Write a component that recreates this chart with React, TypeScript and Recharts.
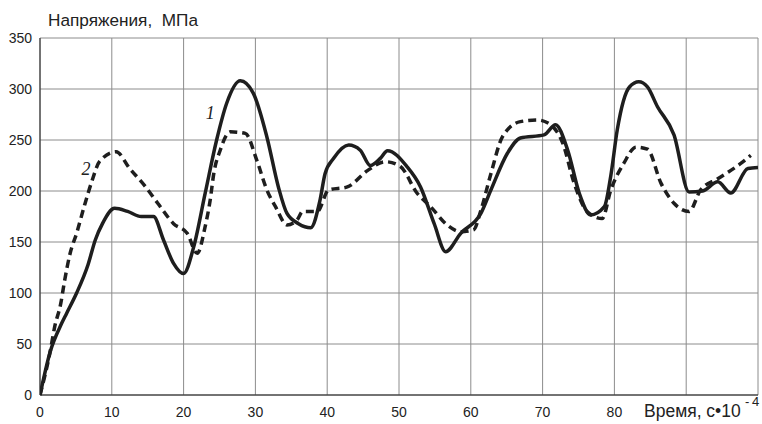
import React from 'react';
import { LineChart, Line, XAxis, YAxis, CartesianGrid, ReferenceDot } from 'recharts';

const t1 = [0, 1.4, 3.0, 3.7, 5.1, 6.7, 7.7, 8.7, 10.4, 12.2, 14.1, 15.8, 17.2, 18.6, 20, 21.4, 23, 24.6, 26, 27.9, 29.7, 31.6, 33.2, 34.4, 36, 37.7, 39, 39.7, 40.9, 43, 44.6, 46, 47.4, 48.4, 51.1, 53, 54.9, 56.5, 58.6, 61.4, 62.8, 65.1, 66.9, 70.2, 71.8, 73.5, 75.1, 76.7, 78.6, 79.5, 80.4, 82.1, 83.4, 84.6, 86, 88.3, 90.4, 92.3, 94.4, 96.2, 98.6, 100];
const s1 = [0, 42, 70, 80, 100, 128, 152, 168, 183, 180, 175, 175, 152, 129, 119, 145, 197.6, 250, 286, 308, 296, 253, 204, 178, 168, 164, 191, 217, 232, 245, 240, 225, 232, 239.5, 224, 204, 168, 140.5, 158.5, 178, 201, 237, 252, 255, 265, 240, 198, 176.5, 184.6, 215, 260, 302, 307, 302, 282.6, 255, 199, 200, 209, 198, 222, 223];

const t2 = [0, 1.4, 2.05, 2.9, 3.4, 4.2, 5.1, 6.2, 7.2, 8.3, 10.6, 12.5, 14.6, 16.4, 18.6, 20.5, 21.9, 23, 23.7, 24.2, 25.1, 26.5, 28.6, 30.2, 31.6, 32.8, 34.4, 35.8, 36.6, 38.6, 40.2, 42.8, 45.6, 48.1, 50.2, 52.5, 54.4, 56.7, 58.6, 60.4, 61.4, 62.8, 64.4, 66.9, 69.3, 71.1, 72.8, 74.4, 76.2, 78.3, 79.5, 81.3, 83, 84.6, 86.5, 88.3, 90.4, 92, 94.4, 97.6, 99];
const s2 = [0, 42, 67, 90, 111, 139, 158.5, 186, 209, 229, 238.5, 222, 205, 188, 168, 158.5, 139, 165, 191, 217, 240, 258, 256.5, 230, 201, 184.6, 166.7, 171.6, 180, 180, 201, 204, 220, 228.7, 224, 198, 184.6, 166.7, 160, 162, 181, 217, 253, 268, 269.6, 265, 247, 207.5, 180, 173, 201, 227, 243, 241, 207.5, 188, 180, 201, 212, 227, 235];

const xTicks = [0, 10, 20, 30, 40, 50, 60, 70, 80, 90, 100];
const yTicks = [0, 50, 100, 150, 200, 250, 300, 350];
const xLabelMax = 80;

const d1 = t1.map((x, i) => ({ x, y: s1[i] }));
const d2 = t2.map((x, i) => ({ x, y: s2[i] }));

const FONT = '"Liberation Sans", Arial, sans-serif';

const XTick = (props: any) => {
  const { x, y, payload } = props;
  if (payload.value > xLabelMax) return <g />;
  return (
    <text x={x} y={y + 14} textAnchor="middle" fontSize={14} fill="#222" fontFamily={FONT}>
      {payload.value}
    </text>
  );
};

const curveLabel = (txt: string) => (p: any) => (
  <text x={p.cx} y={p.cy} textAnchor="middle" dominantBaseline="central" fontSize={18} fontStyle="italic" fontFamily='"Liberation Serif", "DejaVu Serif", serif' fill="#222">
    {txt}
  </text>
);

export default function App() {
  return (
    <div style={{ position: 'absolute', left: 0, top: 0, width: 762, height: 424, background: '#fff' }}>
      <LineChart width={762} height={424} margin={{ top: 38, right: 4, bottom: 0, left: 0 }}>
        <CartesianGrid stroke="#8c8c8c" strokeWidth={1} />
        <XAxis
          dataKey="x"
          type="number"
          domain={[0, 100]}
          ticks={xTicks}
          interval={0}
          height={29}
          stroke="#222"
          tickLine={false}
          tick={<XTick />}
          allowDataOverflow
        />
        <YAxis
          type="number"
          domain={[0, 350]}
          ticks={yTicks}
          interval={0}
          width={40}
          stroke="#222"
          tickLine={false}
          tick={{ fill: '#222', fontSize: 14, fontFamily: FONT }}
        />
        <Line data={d2} dataKey="y" type="monotone" stroke="#1e1e1e" strokeWidth={3.5} strokeDasharray="8 5" dot={false} isAnimationActive={false} />
        <Line data={d1} dataKey="y" type="monotone" stroke="#1e1e1e" strokeWidth={3.5} dot={false} isAnimationActive={false} />
        <ReferenceDot x={23.7} y={276} r={0} shape={curveLabel('1')} />
        <ReferenceDot x={6.4} y={222} r={0} shape={curveLabel('2')} />
      </LineChart>
      <svg width={762} height={424} style={{ position: 'absolute', left: 0, top: 0, pointerEvents: 'none' }}>
        <text x={48} y={26} fontSize={17.2} fill="#222" fontFamily={FONT} style={{ whiteSpace: 'pre' }}>
          {'Напряжения,  МПа'}
        </text>
        <text x={644} y={417} fontSize={17.5} fill="#222" fontFamily={FONT} style={{ whiteSpace: 'pre' }}>
          {'Время, с•10'}
        </text>
        <text x={745} y={406} fontSize={13} fill="#222" fontFamily={FONT} style={{ whiteSpace: 'pre' }}>
          {'-\u20094'}
        </text>
      </svg>
    </div>
  );
}
